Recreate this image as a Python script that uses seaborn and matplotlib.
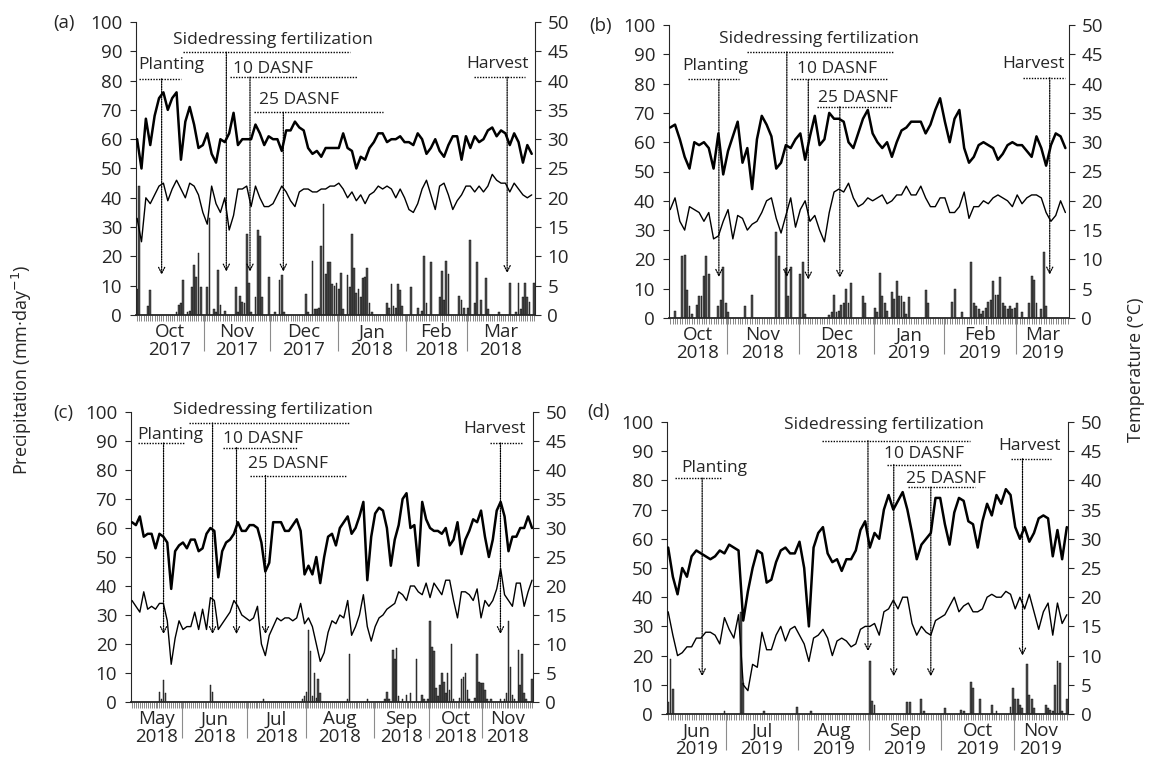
import numpy as np
import seaborn as sns
import matplotlib.pyplot as plt

sns.set_style("ticks")
plt.rcParams['font.family'] = ['Open Sans', 'DejaVu Sans']

# ---- panel (a): Oct 2017 - Mar 2018 ----
n_days_a = 182
month_edges_a = [31, 61, 92, 123, 151]
month_labels_a = ['Oct\n2017', 'Nov\n2017', 'Dec\n2017', 'Jan\n2018', 'Feb\n2018', 'Mar\n2018']
# temperatures (°C), read every 2nd day
tmax_a = [30, 25, 33.5, 29, 34, 37, 38, 35, 37, 38,
          26.5, 33, 35.5, 32.5, 28.5, 29, 31, 27.5, 26, 30,
          29.5, 31, 34.5, 29, 30, 30, 30, 32.5, 31, 29,
          30.5, 30, 30, 28, 31.5, 31.5, 33, 32, 31.5, 28.5,
          27.5, 28, 27, 28.5, 28.5, 28.5, 28.5, 31, 28.5, 28,
          25, 27, 26.5, 28.5, 29.5, 31, 31, 29.5, 30, 30,
          30.5, 29.5, 29.5, 29, 31, 30, 27.5, 28.5, 30, 28,
          27, 29, 30.5, 30.5, 26.5, 30.5, 28.5, 30.5, 29.5, 30,
          31.5, 32, 30.5, 31.5, 31, 29, 31, 29.5, 26, 29,
          27.5]
tmin_a = [16.5, 12.5, 20, 19, 20.5, 22, 22.5, 19.5, 21.5, 23,
          21.5, 20, 22.5, 22, 20.5, 17.5, 15.5, 22, 19, 17.5,
          20, 14.5, 17, 21.5, 21.5, 22, 18.5, 22, 20, 18.5,
          18.5, 19, 20.5, 22, 21, 19.5, 18.5, 21, 21.5, 21.5,
          21, 21, 21.5, 21.5, 22, 22, 22.5, 21.5, 20, 21,
          19.5, 20.5, 19, 20.5, 21, 22, 21.5, 22, 21.5, 20,
          21.5, 20, 18, 17.5, 19, 21.5, 23, 20.5, 18, 22,
          22.5, 20.5, 18, 19.5, 20.5, 22, 22, 21, 22, 21,
          22, 24, 23, 22.5, 22.5, 21, 22.5, 21.5, 20.5, 20,
          20.5]
rain_day_a = [0, 1, 5, 6, 18, 19, 20, 21, 23, 24, 25, 26, 27, 28, 29, 32, 33, 35, 36, 37,
              38, 40, 45, 46, 47, 48, 49, 50, 51, 52, 54, 55, 56, 57, 60, 63, 65, 66, 67, 77,
              78, 80, 81, 82, 83, 84, 85, 86, 87, 88, 89, 90, 91, 92, 93, 94, 96, 97, 98, 99,
              100, 101, 102, 103, 104, 105, 106, 107, 114, 115, 116, 117, 118, 119, 120, 121,
              125, 128, 130, 131, 132, 134, 138, 139, 140, 141, 142, 147, 148, 149, 151, 152,
              154, 155, 157, 159, 160, 165, 170, 173, 174, 175, 176, 177, 178, 179, 181]
rain_mm_a = [9, 44, 3, 8.5, 1, 3.5, 4, 12, 1, 1.5, 9.5, 17, 13, 21, 9.5, 9.5, 33, 2, 1, 15.5,
             3.5, 1.5, 9.5, 1, 6.5, 4.5, 4, 27.5, 11, 1, 6, 29, 27, 6, 13, 1, 12, 13.5, 1, 7,
             1, 18.5, 2, 2, 2.5, 23.5, 38, 14, 18, 18, 10.5, 10, 11, 9, 14.5, 2, 13.5, 9.5, 27.5, 16,
             7.5, 9, 6, 12.5, 13, 16, 4, 1, 4, 2.5, 10.5, 3, 2.5, 10.5, 8.5, 3,
             9.5, 2.5, 1.5, 20, 4, 18, 6, 15, 5, 18.5, 14, 6.5, 5, 2.5, 2.5, 25.5,
             4, 18, 5, 12.5, 2, 1, 11, 1, 11, 2, 6, 11, 6, 4.5, 11]
notes_a = [('Planting', 15.4, 85.3, 0.7, 20.1, 80.6, 11.2, 13.7),
           ('Sidedressing fertilization', 61.8, 94, 21, 97, 89.7, 40.7, 14.8),
           ('10 DASNF', 61.8, 84, 42.4, 100.3, 81.2, 51.5, 14.8),
           ('25 DASNF', 74, 73.5, 53.1, 112.2, 69.2, 66.7, 14.8),
           ('Harvest', 164.2, 85.5, 153.9, 176.9, 81.2, 168.8, 14.3)]

# ---- panel (b): Oct 2018 - Mar 2019 ----
n_days_b = 166
month_edges_b = [24, 54, 85, 114, 144]
month_labels_b = ['Oct\n2018', 'Nov\n2018', 'Dec\n2018', 'Jan\n2019', 'Feb\n2019', 'Mar\n2019']
tmax_b = [32.5, 33, 30.5, 27.5, 25.5, 30, 29.5, 30, 29, 25.5,
          31.5, 24.5, 28.5, 31, 33.5, 26.5, 29, 22, 30.5, 34.5,
          33, 31, 25.5, 26.5, 29.5, 29, 30.5, 31.5, 27, 31,
          34.5, 29.5, 30.5, 35, 34, 34, 33.5, 30, 29, 31.5,
          34, 35.5, 31.5, 30, 29, 30, 27.5, 30, 32, 32.5,
          33.5, 33.5, 33.5, 31.5, 33, 35.5, 37.5, 33.5, 30, 34,
          35.5, 29, 26.5, 27.5, 29.5, 30, 29.5, 29, 27, 28,
          29.5, 30, 29.5, 29.5, 28.5, 27.5, 31, 29, 26, 29.5,
          31.5, 31, 29]
tmin_b = [18.5, 20.5, 16.5, 15, 19, 18.5, 18, 16.5, 18, 13.5,
          14, 16.5, 18.5, 13.5, 17.5, 17, 15, 16, 16.5, 18,
          20, 20.5, 17, 14.5, 17.5, 20.5, 15.5, 18.5, 20, 16.5,
          17.5, 15, 13, 18, 21.5, 22, 21.5, 23, 20.5, 19,
          19.5, 20.5, 20, 20.5, 21, 19.5, 20, 21, 21, 22.5,
          21, 21, 22.5, 20.5, 19, 19, 20.5, 20.5, 18, 18,
          19, 21.5, 17, 19, 19, 20, 19.5, 20.5, 21, 20.5,
          20, 19, 21, 19.5, 20.5, 21, 21, 20.5, 18, 16.5,
          17.5, 20, 18]
rain_day_b = [2, 5, 6, 7, 8, 9, 11, 12, 13, 14, 15, 16, 20, 21, 22, 23, 24, 31, 34, 44,
              45, 48, 49, 50, 54, 55, 56, 66, 67, 68, 69, 70, 71, 72, 73, 74, 75, 80, 81, 85,
              86, 87, 88, 89, 90, 92, 93, 94, 95, 96, 97, 98, 99, 106, 107, 117, 118, 121, 125, 126,
              127, 128, 129, 130, 131, 132, 133, 134, 135, 136, 137, 138, 139, 140, 141, 142, 143, 144,
              146, 149, 150, 151, 152, 154, 155, 156]
rain_mm_b = [2.5, 21, 21.5, 9.5, 4, 1.5, 4.5, 7.5, 7.5, 14.5, 21, 15, 4, 6, 17.5, 5, 2, 4, 8, 29.5,
             21, 17, 7.5, 17.5, 15, 19, 1.5, 1, 2, 8, 2, 2.5, 4.5, 5, 10, 5, 12, 7.5, 5, 3.5,
             2, 15.5, 7.5, 5, 2.5, 9, 6.5, 12.5, 7.5, 7.5, 5.5, 1.5, 7, 9.5, 5, 5.5, 10, 2, 19, 5,
             4, 3, 1.5, 2.5, 3.5, 5.5, 6, 12.5, 8, 8, 14, 5, 4, 3, 4, 3, 3.5, 5,
             2, 5, 14.5, 13, 5, 3, 22.5, 4]
notes_b = [('Planting', 18.5, 86, 7.5, 28.6, 81.4, 20.2, 14),
           ('Sidedressing fertilization', 61.9, 95.3, 31.7, 93, 90.8, 48.4, 14),
           ('10 DASNF', 69.1, 84.9, 50.1, 90.3, 81.4, 57.3, 13.1),
           ('25 DASNF', 78, 75, 60.8, 91.8, 72.1, 70.4, 13.7),
           ('Harvest', 150.6, 86.6, 146.3, 164, 82, 157.5, 14.8)]

# ---- panel (c): May - Nov 2018 ----
n_days_c = 205
month_edges_c = [26, 59, 89, 124, 152, 179]
month_labels_c = ['May\n2018', 'Jun\n2018', 'Jul\n2018', 'Aug\n2018', 'Sep\n2018', 'Oct\n2018', 'Nov\n2018']
tmax_c = [31, 30.5, 32, 28.5, 29, 29, 26.5, 29, 28.5, 27.5,
          19.5, 26, 27, 27.5, 26.5, 28, 28, 26, 26.5, 29,
          30, 29.5, 21.5, 26, 27.5, 28, 29, 31, 29.5, 29.5,
          30.5, 30.5, 30, 27.5, 22.5, 24, 31, 31, 31, 29.5,
          29.5, 30.5, 31.5, 29.5, 22, 23.5, 22, 25, 20.5, 25,
          28.5, 29, 27, 30, 31, 32, 29, 30, 32, 34.5,
          21, 28.5, 32.5, 33.5, 33, 30, 23.5, 28, 30.5, 35,
          36, 30, 30.5, 23.5, 34.5, 31.5, 30, 29.5, 29.5, 29,
          30, 27, 28, 31, 25.5, 28, 29.5, 31.5, 31, 33,
          28.5, 25, 28, 33, 34.5, 32, 26, 28.5, 28.5, 30,
          30, 32, 30]
tmin_c = [17.5, 16.5, 15.5, 19, 16, 16.5, 16, 17, 17, 14,
          6.5, 11, 14, 12.5, 13, 13, 15.5, 12.5, 16, 12.5,
          18, 17.5, 12.5, 13.5, 14.5, 15.5, 17.5, 16.5, 15, 14.5,
          14, 14.5, 16.5, 10, 8, 11.5, 13, 14.5, 14, 14.5,
          14.5, 14, 14.5, 17, 13.5, 14.5, 13, 10, 7, 8.5,
          12, 14, 13.5, 15, 14.5, 17.5, 11.5, 13, 15, 18.5,
          13, 10.5, 13, 14.5, 15, 16, 16.5, 17, 19, 18.5,
          17.5, 20, 20, 19, 18.5, 20.5, 18, 20.5, 19.5, 18.5,
          21, 21, 17.5, 14.5, 19, 19, 18.5, 17.5, 19.5, 14.5,
          17.5, 16.5, 17.5, 19.5, 23, 18.5, 17.5, 16.5, 20.5, 20.5,
          16.5, 19, 21]
rain_day_c = [14, 15, 16, 17, 40, 41, 67, 87, 88, 89, 90, 91, 92, 93, 94, 95, 96, 110, 111, 120,
              129, 130, 131, 133, 134, 135, 136, 138, 140, 142, 145, 148, 149, 151, 152, 153, 154, 155, 156, 157,
              158, 159, 160, 161, 162, 163, 164, 167, 168, 169, 170, 171, 172, 175, 176, 177, 178, 179, 180, 181,
              183, 188, 190, 191, 192, 193, 194, 195, 197, 198, 199, 200, 201, 204]
rain_mm_c = [3.5, 1, 7.5, 3, 6, 3.5, 1, 1, 2, 3.5, 25, 17.5, 2, 10, 1.5, 8, 3, 1, 16.5, 1,
             1, 3.5, 1, 18, 15, 18.5, 2, 1, 2.5, 3, 15, 2.5, 1, 1, 28, 19, 17.5, 5, 2, 6,
             10, 7, 3, 10, 4, 20, 1, 1.5, 8, 8.5, 10, 4, 1, 1.5, 16.5, 7, 6.5, 6.5, 4, 1,
             1, 1, 1, 3, 28, 12, 2.5, 1, 18, 6, 16.5, 3, 1, 8]
notes_c = [('Planting', 19.7, 92.2, 3.3, 26.9, 89.3, 16.1, 23.4),
           ('Sidedressing fertilization', 71.7, 100.6, 29.2, 111, 96.2, 41.1, 23.4),
           ('10 DASNF', 67, 90.8, 46.2, 84.5, 87.7, 53.3, 23.4),
           ('25 DASNF', 79.4, 82.1, 60, 109.1, 78.1, 68.1, 23.4),
           ('Harvest', 185, 94.2, 182.8, 199.2, 89.3, 187.9, 23.4)]

# ---- panel (d): Jun - Nov 2019 ----
n_days_d = 171
month_edges_d = [25, 56, 86, 117, 148]
month_labels_d = ['Jun\n2019', 'Jul\n2019', 'Aug\n2019', 'Sep\n2019', 'Oct\n2019', 'Nov\n2019']
tmax_d = [28.5, 23.5, 20.5, 25, 23.5, 27, 28, 27.5, 27, 26.5,
          27, 28, 27.5, 29, 28.5, 28, 16, 21, 25, 28,
          27.5, 22.5, 23, 26, 28, 28.5, 27.5, 27.5, 29.5, 25,
          15, 28.5, 31, 32, 27.5, 26, 26.5, 24.5, 26.5, 26.5,
          28, 31.5, 33, 28.5, 31, 30, 35, 37.5, 35, 36.5,
          38, 35, 31, 26.5, 29, 30, 31, 37, 37, 32.5,
          29, 34.5, 37, 36.5, 33, 32.5, 28.5, 33, 36, 34,
          37.5, 36, 38.5, 37.5, 32, 30, 32, 29.5, 31, 33.5,
          34, 33.5, 27, 31.5, 26.5, 32]
tmin_d = [17.5, 13.5, 10, 10.5, 11.5, 11.5, 13, 13, 14, 14,
          13.5, 12, 16.5, 14.5, 13, 17, 5, 4, 8.5, 8,
          14, 11, 11, 13.5, 15, 12.5, 14.5, 15, 13.5, 12,
          9, 13, 13.5, 14.5, 13, 10, 12.5, 13, 12.5, 11.5,
          12, 14.5, 15, 15, 15.5, 13.5, 17.5, 18, 19.5, 18,
          20, 20, 15.5, 13.5, 15, 14, 13.5, 16, 16.5, 17,
          18.5, 20, 17.5, 18.5, 19, 17.5, 17.5, 18, 20, 20.5,
          20, 20, 21, 20.5, 18, 20, 18, 20.5, 17.5, 14.5,
          17.5, 19, 13.5, 19, 15.5, 17]
rain_day_d = [0, 1, 2, 24, 31, 32, 41, 55, 61, 86, 87, 88, 102, 103, 108, 109, 118, 125, 126, 129,
              130, 133, 138, 140, 146, 147, 148, 149, 150, 151, 153, 154, 155, 156, 161, 162, 163, 164, 165, 166,
              167, 168, 170]
rain_mm_d = [4, 19, 8.5, 1, 35, 10.5, 1, 2.5, 1, 18, 4.5, 3, 4, 4, 5, 1, 2, 1.5, 1, 11,
             9, 5, 3, 1, 2.5, 9, 5, 5, 3, 2, 17, 6.5, 5, 2, 3, 2, 1.5, 1, 10, 18,
             17.5, 1, 5]
notes_d = [('Planting', 19.6, 84.2, 2.7, 22.4, 80.8, 14.5, 12.9),
           ('Sidedressing fertilization', 92, 99, 65.4, 128.6, 93.6, 85.2, 21.5),
           ('10 DASNF', 108.9, 89.2, 93.5, 125.2, 85.4, 96.2, 12.9),
           ('25 DASNF', 118.4, 80.5, 102.1, 131, 77.7, 112, 12.9),
           ('Harvest', 154.2, 91.7, 146, 163.4, 87.4, 151.1, 20)]


def draw_panel(rect, n_days, edges, labels, tmax, tmin, rain_day, rain_mm, notes):
    ax = fig.add_axes(rect)
    ax2 = ax.twinx()

    # precipitation bars
    ax.bar(rain_day, rain_mm, width=0.8, color='#505050', edgecolor='black', linewidth=0.3)

    # temperature lines (sampled every 2nd day)
    xs = np.arange(len(tmax)) * 2
    sns.lineplot(x=xs, y=tmax, ax=ax2, color='black', linewidth=1.8)
    sns.lineplot(x=xs, y=tmin, ax=ax2, color='black', linewidth=1.0)

    ax.set_xlim(-0.5, n_days - 0.5)
    ax.set_ylim(0, 100)
    ax2.set_ylim(0, 50)
    ax.set_yticks(range(0, 101, 10))
    ax2.set_yticks(range(0, 51, 5))
    ax.set_ylabel('')
    ax2.set_ylabel('')

    ax.set_xticks([e - 0.5 for e in edges])
    ax.set_xticklabels([])
    ax.set_xticks(np.arange(n_days), minor=True)
    ax.tick_params(axis='x', which='major', length=26, width=0.8, color='0.55')
    ax.tick_params(axis='x', which='minor', length=4, width=0.5, color='0.35')
    ax.tick_params(axis='y', length=4, width=0.8, labelsize=13.5, pad=6)
    ax2.tick_params(axis='y', length=4, width=0.8, labelsize=13.5, pad=5)

    for a in (ax, ax2):
        a.spines['top'].set_visible(False)
    ax.spines['right'].set_visible(False)
    ax.spines['bottom'].set_linewidth(1.3)
    ax.spines['left'].set_linewidth(0.8)
    ax2.spines['right'].set_linewidth(0.8)
    ax2.spines['left'].set_visible(False)
    ax2.spines['bottom'].set_visible(False)

    # month labels centred between separators
    bounds = [-0.5] + [e - 0.5 for e in edges] + [n_days - 0.5]
    for i, lab in enumerate(labels):
        xc = (bounds[i] + bounds[i + 1]) / 2
        ax.annotate(lab, xy=(xc, 0), xycoords=('data', 'axes fraction'),
                    xytext=(0, -6), textcoords='offset points',
                    ha='center', va='top', fontsize=13.5, linespacing=0.95)

    # event annotations
    for text, tx, ty, x0, x1, ly, axx, tip in notes:
        ax.text(tx, ty, text, ha='center', va='center', fontsize=12.5, zorder=5)
        ax.plot([x0, x1], [ly, ly], color='black', lw=1.0, ls=(0, (1, 1)), zorder=5)
        ax.annotate('', xy=(axx, tip), xytext=(axx, ly),
                    arrowprops=dict(arrowstyle='->', color='black', lw=0.9,
                                    ls=(0, (1, 1)), shrinkA=0, shrinkB=0,
                                    mutation_scale=11), zorder=5)
    return ax


fig = plt.figure(figsize=(11.51, 7.61), dpi=100)

W, H = 1151, 761
draw_panel([136 / W, 1 - 315 / H, 399 / W, 293 / H], n_days_a, month_edges_a, month_labels_a,
           tmax_a, tmin_a, rain_day_a, rain_mm_a, notes_a)
draw_panel([669 / W, 1 - 318 / H, 400 / W, 293 / H], n_days_b, month_edges_b, month_labels_b,
           tmax_b, tmin_b, rain_day_b, rain_mm_b, notes_b)
draw_panel([131 / W, 1 - 702 / H, 402 / W, 290 / H], n_days_c, month_edges_c, month_labels_c,
           tmax_c, tmin_c, rain_day_c, rain_mm_c, notes_c)
draw_panel([667 / W, 1 - 714 / H, 401 / W, 292 / H], n_days_d, month_edges_d, month_labels_d,
           tmax_d, tmin_d, rain_day_d, rain_mm_d, notes_d)

# panel tags
fig.text(64 / W, 1 - 23 / H, '(a)', ha='center', va='center', fontsize=13.5)
fig.text(601 / W, 1 - 26 / H, '(b)', ha='center', va='center', fontsize=13.5)
fig.text(63 / W, 1 - 413 / H, '(c)', ha='center', va='center', fontsize=13.5)
fig.text(598 / W, 1 - 412 / H, '(d)', ha='center', va='center', fontsize=13.5)

fig.text(22 / W, 1 - 370 / H, 'Precipitation (mm·day$^{-1}$)', rotation=90,
         ha='center', va='center', fontsize=13)
fig.text(1136 / W, 1 - 370 / H, 'Temperature (°C)', rotation=90,
         ha='center', va='center', fontsize=13)

fig.savefig('out.png', dpi=100)
